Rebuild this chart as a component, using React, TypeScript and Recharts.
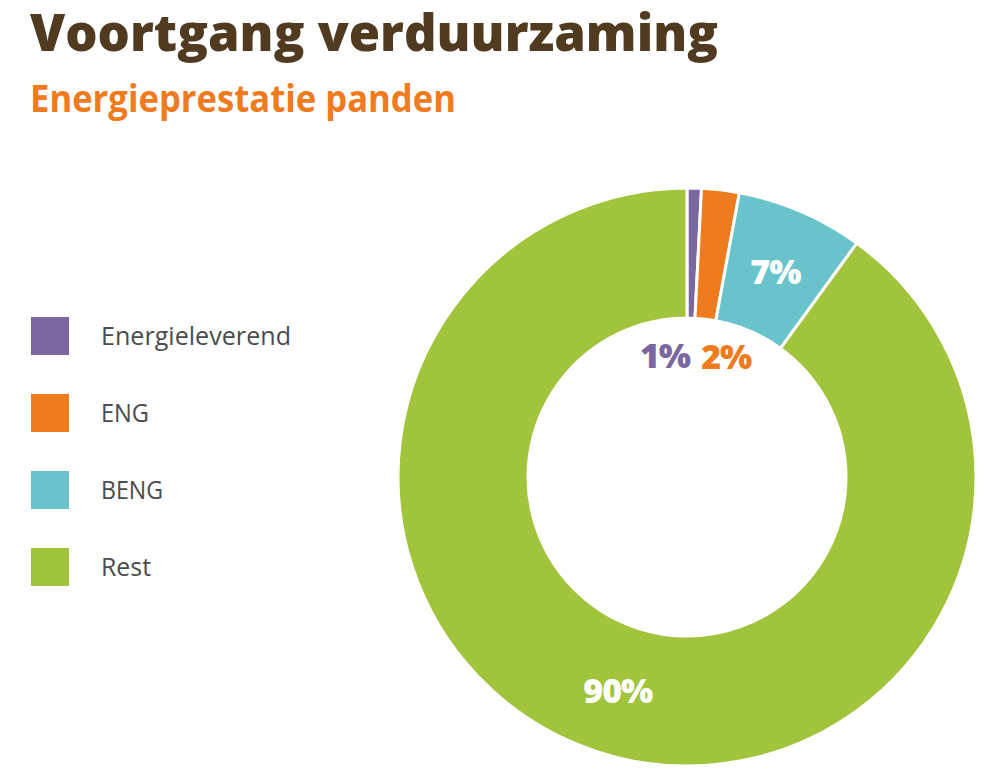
import { PieChart, Pie, Cell } from 'recharts';

// =============================================================================
// Data
// =============================================================================

const categories = ['Energieleverend', 'ENG', 'BENG', 'Rest'];
const shares = [0.8, 2.1, 7.1, 90.0];
const percentLabels = ['1%', '2%', '7%', '90%'];
const legendTextWidths = [190, 48, 62, 50];

const COLORS = ['#7a67a0', '#ee7b1d', '#69c3cb', '#a0c43b'];
const TITLE_COLOR = '#503b20';
const SUBTITLE_COLOR = '#ef7b1f';
const LEGEND_TEXT = '#4b4b4d';

const data = categories.map((name, i) => ({ name, value: shares[i] }));

const RADIAN = Math.PI / 180;
const FONT = '"Open Sans", "Noto Sans", sans-serif';

// =============================================================================
// Slice labels
// =============================================================================

// Wide slices get a white label in the ring, thin ones sit just inside the hole.
function renderLabel(props: any) {
  const { cx, cy, midAngle, innerRadius, outerRadius, index, percent } = props;
  const small = percent < 0.05;
  const r = small ? innerRadius - 37 : (innerRadius + outerRadius) / 2;
  const x = cx + r * Math.cos(-midAngle * RADIAN);
  const y = cy + r * Math.sin(-midAngle * RADIAN);
  const anchor = small ? (index === 0 ? 'end' : 'start') : 'middle';
  return (
    <text
      x={x}
      y={y}
      fill={small ? COLORS[index] : '#ffffff'}
      textAnchor={anchor}
      dominantBaseline="central"
      fontFamily={FONT}
      fontWeight={800}
      fontSize={34}
      letterSpacing={-1}
    >
      {percentLabels[index]}
    </text>
  );
}

// =============================================================================
// Legend (drawn beside the chart, left column)
// =============================================================================

function ChartLegend() {
  const rowGap = 77;
  return (
    <svg
      width={320}
      height={rowGap * categories.length}
      style={{ position: 'absolute', left: 31, top: 317 }}
    >
      {categories.map((name, i) => (
        <g key={`legend-${name}`} transform={`translate(0, ${i * rowGap})`}>
          <rect x={0} y={0} width={38} height={38} fill={COLORS[i]} />
          <text
            x={70}
            y={28}
            fill={LEGEND_TEXT}
            fontFamily={FONT}
            fontSize={25}
            textLength={legendTextWidths[i]}
            lengthAdjust="spacingAndGlyphs"
          >
            {name}
          </text>
        </g>
      ))}
    </svg>
  );
}

// =============================================================================
// Component
// =============================================================================

export default function App() {
  return (
    <div
      style={{
        position: 'absolute',
        left: 0,
        top: 0,
        width: 988,
        height: 772,
        background: '#ffffff',
        overflow: 'hidden',
      }}
    >
      <PieChart
        width={988}
        height={772}
        margin={{ top: 0, right: 0, bottom: 0, left: 0 }}
        style={{ position: 'absolute', left: 0, top: 0 }}
      >
        <Pie
          data={data}
          dataKey="value"
          nameKey="name"
          cx={687}
          cy={477}
          innerRadius={159}
          outerRadius={289}
          startAngle={90}
          endAngle={-270}
          stroke="#ffffff"
          strokeWidth={3}
          label={renderLabel}
          labelLine={false}
          isAnimationActive={false}
        >
          {data.map((entry, index) => (
            <Cell key={`cell-${entry.name}`} fill={COLORS[index]} />
          ))}
        </Pie>
      </PieChart>

      <svg
        width={988}
        height={140}
        style={{ position: 'absolute', left: 0, top: 0 }}
      >
        <text
          x={30}
          y={51}
          fill={TITLE_COLOR}
          fontFamily={FONT}
          fontWeight={800}
          fontSize={52}
          textLength={688}
          lengthAdjust="spacingAndGlyphs"
        >
          Voortgang verduurzaming
        </text>
        <text
          x={30}
          y={112}
          fill={SUBTITLE_COLOR}
          fontFamily={FONT}
          fontWeight={700}
          fontSize={38}
          textLength={426}
          lengthAdjust="spacingAndGlyphs"
        >
          Energieprestatie panden
        </text>
      </svg>

      <ChartLegend />
    </div>
  );
}
